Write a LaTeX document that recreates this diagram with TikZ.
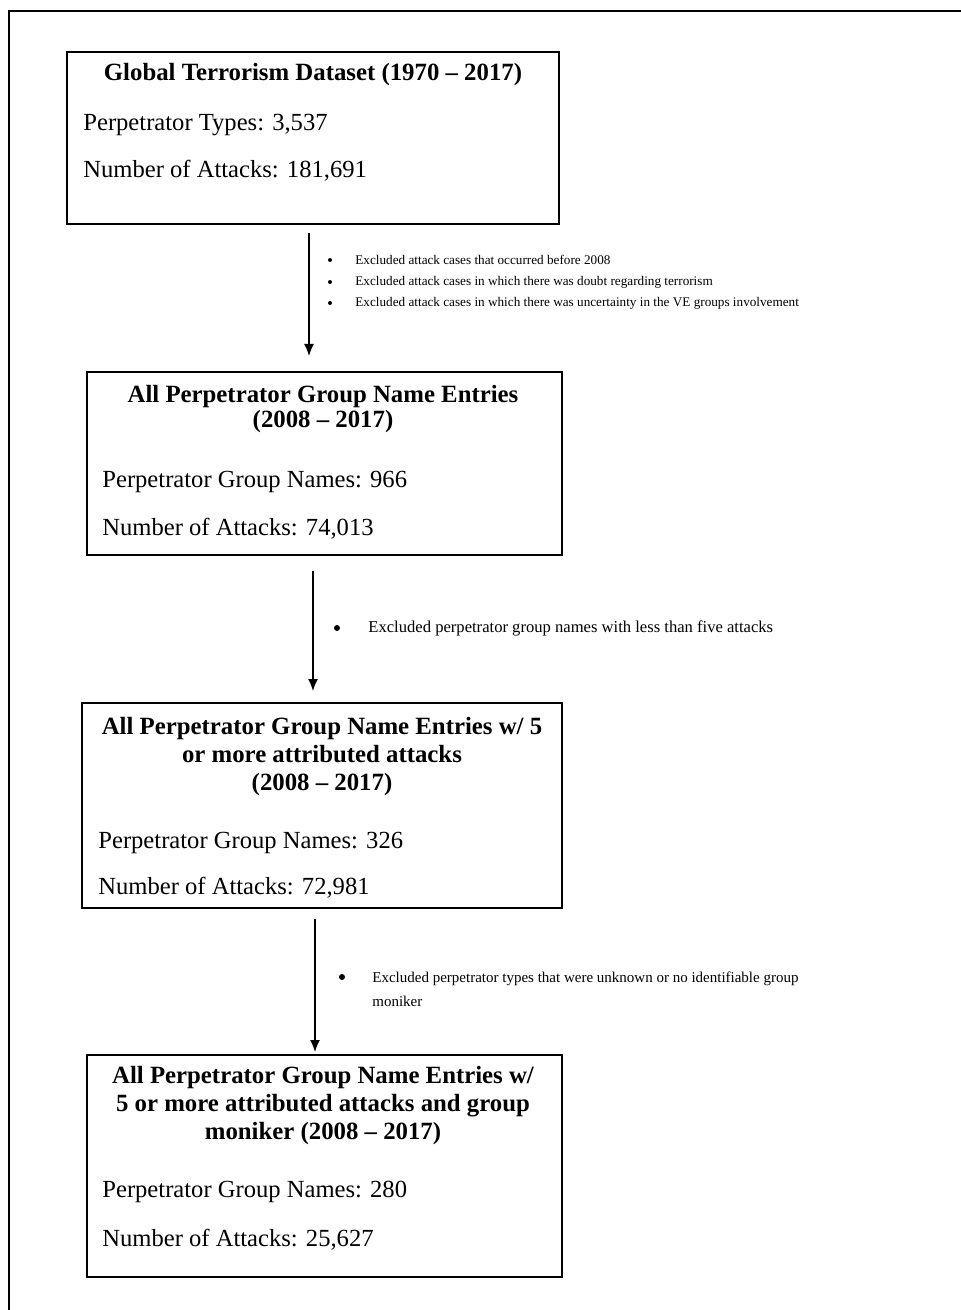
\documentclass[tikz,border=0pt]{standalone}
\usepackage{fontspec}
\setmainfont{Liberation Serif}
\usetikzlibrary{arrows.meta,fit}

\begin{document}
\begin{tikzpicture}[x=0.5pt, y=-0.5pt,
  box/.style={draw, line width=1pt, inner sep=0pt},
  head/.style={font=\fontsize{12.4}{14}\selectfont\bfseries, align=center, inner sep=0pt},
  body/.style={font=\fontsize{12.3}{14}\selectfont, anchor=west, inner sep=0pt},
  note/.style={font=\fontsize{#1}{12}\selectfont, anchor=west, align=left, inner sep=0pt},
  dot/.style={circle, fill, inner sep=0pt, minimum size=#1},
  arr/.style={-{Latex[length=6pt,width=5pt]}, line width=0.7pt}]
\useasboundingbox (0,0) rectangle (961,1310);
\draw[line width=1pt] (9,1310) -- (9,11) -- (961,11);

\node[box, fit={(67,52) (559,224)}] (b1) {};
\node[box, fit={(87,372) (562,555)}] (b2) {};
\node[box, fit={(82,703) (562,908)}] (b3) {};
\node[box, fit={(87,1055) (562,1277)}] (b4) {};

\node[head] (h1) at (313,75) {Global Terrorism Dataset (1970 -- 2017)};
\node[body] (p1) at (83,125) {Perpetrator Types: 3,537};
\node[body] (q1) at (83,171) {Number of Attacks: 181,691};

\node[head] (h2) at (323,409) {All Perpetrator Group Name Entries\\[-1.5pt](2008 -- 2017)};
\node[body] (p2) at (102,482) {Perpetrator Group Names: 966};
\node[body] (q2) at (102,529) {Number of Attacks: 74,013};

\node[head] (h3) at (322,757) {All Perpetrator Group Name Entries w/ 5\\or more attributed attacks\\(2008 -- 2017)};
\node[body] (p3) at (98,843) {Perpetrator Group Names: 326};
\node[body] (q3) at (98,888) {Number of Attacks: 72,981};

\node[head] (h4) at (323,1106) {All Perpetrator Group Name Entries w/\\5 or more attributed attacks and group\\moniker (2008 -- 2017)};
\node[body] (p4) at (102,1192) {Perpetrator Group Names: 280};
\node[body] (q4) at (102,1240) {Number of Attacks: 25,627};

\node[dot=2pt] (d1) at (330,260) {};
\node[dot=2pt] (d2) at (330,282) {};
\node[dot=2pt] (d3) at (330,303) {};
\node[note=6.6] (n1) at (355,260) {Excluded attack cases that occurred before 2008};
\node[note=6.6] (n2) at (355,282) {Excluded attack cases in which there was doubt regarding terrorism};
\node[note=6.6] (n3) at (355,303) {Excluded attack cases in which there was uncertainty in the VE groups involvement};

\node[dot=3pt] (d4) at (337,628) {};
\node[note=8.3] (n4) at (368,628) {Excluded perpetrator group names with less than five attacks};

\node[dot=3pt] (d5) at (342,977) {};
\node[note=7.5] (n5) at (372,989) {Excluded perpetrator types that were unknown or no identifiable group\\moniker};

\coordinate (a1) at ([xshift=-2pt,yshift=-4pt]b1.south);
\coordinate (a2) at ([xshift=-5.75pt,yshift=-7.5pt]b2.south);
\coordinate (a3) at ([xshift=-3.5pt,yshift=-5pt]b3.south);
\draw[arr, shorten >=7.5pt] (a1) -- (a1 |- b2.north);
\draw[arr, shorten >=5.5pt] (a2) -- (a2 |- b3.north);
\draw[arr, shorten >=1pt] (a3) -- (a3 |- b4.north);
\end{tikzpicture}
\end{document}
